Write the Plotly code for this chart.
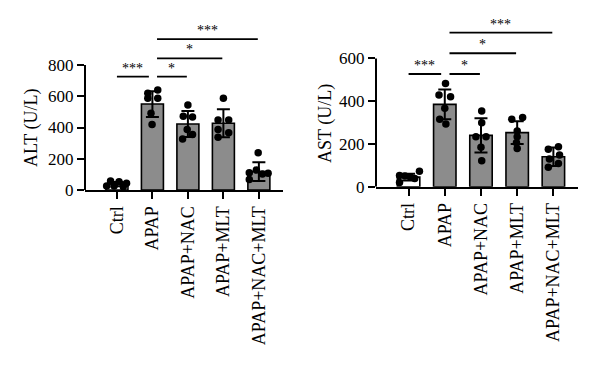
import plotly.graph_objects as go

# ---------------- data ----------------
groups = ["Ctrl", "APAP", "APAP+NAC", "APAP+MLT", "APAP+NAC+MLT"]

alt_mean = [38, 550, 422, 427, 118]
alt_sd = [14, 82, 83, 90, 60]
alt_points = [
    [58, 53, 43, 26, 26, 21],
    [619, 640, 587, 587, 491, 420],
    [544, 472, 468, 388, 356, 326],
    [587, 448, 448, 388, 367, 337],
    [239, 128, 111, 107, 102, 68],
]

ast_mean = [45, 385, 240, 253, 140]
ast_sd = [16, 70, 80, 53, 43]
ast_points = [
    [52, 50, 45, 72, 38, 20],
    [483, 429, 421, 367, 315, 293],
    [354, 299, 234, 234, 184, 121],
    [315, 323, 260, 234, 206, 179],
    [175, 187, 130, 148, 109, 91],
]

alt_ticks = [0, 200, 400, 600, 800]
ast_ticks = [0, 200, 400, 600]

# significance brackets: (group_a, group_b, height, label)
alt_sig = [(0, 1, 725, "***"), (1, 2, 725, "*"), (1, 3, 843, "*"), (1, 4, 965, "***")]
ast_sig = [(0, 1, 527, "***"), (1, 2, 527, "*"), (1, 3, 624, "*"), (1, 4, 720, "***")]

# ---------------- style ----------------
alt_jitter = [
    [-0.18, 0.06, 0.27, -0.29, -0.08, 0.18],
    [-0.13, 0.15, -0.13, 0.15, -0.04, -0.01],
    [0.0, -0.13, 0.13, -0.02, 0.13, -0.15],
    [0.0, -0.15, 0.15, -0.15, 0.15, -0.15],
    [-0.02, -0.07, -0.27, 0.26, 0.10, -0.27],
]
ast_jitter = [
    [-0.25, -0.1, 0.05, 0.3, 0.17, -0.25],
    [0.02, -0.16, 0.16, 0.0, -0.14, 0.03],
    [0.02, 0.02, -0.14, 0.14, 0.0, 0.02],
    [-0.15, 0.15, 0.0, 0.0, -0.02, 0.0],
    [-0.14, 0.14, -0.11, 0.17, 0.14, -0.14],
]
FONT = "Liberation Serif"
GRAY = "#8c8c8c"
bar_colors = ["white", GRAY, GRAY, GRAY, GRAY]
xs = list(range(len(groups)))

fig = go.Figure()


def add_panel(mean, sd, points, jitter, xa, ya):
    fig.add_trace(go.Bar(
        x=xs, y=mean, width=0.62, xaxis=xa, yaxis=ya,
        marker=dict(color=bar_colors, line=dict(color="black", width=1.6)),
        error_y=dict(type="data", array=sd, visible=True, color="black",
                     thickness=2, width=6.5),
        showlegend=False, hoverinfo="skip",
    ))
    px, py = [], []
    for i, pts in enumerate(points):
        for j, v in enumerate(pts):
            px.append(i + jitter[i][j])
            py.append(v)
    fig.add_trace(go.Scatter(
        x=px, y=py, mode="markers", xaxis=xa, yaxis=ya,
        marker=dict(color="black", size=7.5),
        showlegend=False, hoverinfo="skip",
    ))


add_panel(alt_mean, alt_sd, alt_points, alt_jitter, "x", "y")
add_panel(ast_mean, ast_sd, ast_points, ast_jitter, "x2", "y2")

xcommon = dict(
    tickmode="array", tickvals=xs, ticktext=groups, tickangle=-90,
    showline=True, linecolor="black", linewidth=2, ticks="outside",
    ticklen=7, tickwidth=2, tickcolor="black", showgrid=False, zeroline=False,
    tickfont=dict(family=FONT, size=18, color="black"), range=[-0.9, 4.68],
    automargin=False,
)
ycommon = dict(
    showline=False, ticks="outside", ticklen=7, tickwidth=2, tickcolor="black",
    showgrid=False, zeroline=False, automargin=False,
    tickfont=dict(family=FONT, size=17, color="black"),
)

fig.update_layout(
    width=600, height=367,
    margin=dict(l=0, r=0, t=0, b=0),
    paper_bgcolor="white", plot_bgcolor="white",
    bargap=0.38,
    xaxis=dict(domain=[85 / 600, 283 / 600], anchor="y", **xcommon),
    xaxis2=dict(domain=[376 / 600, 578 / 600], anchor="y2", **xcommon),
    yaxis=dict(domain=[(367 - 190) / 367, (367 - 33.75) / 367], anchor="x",
               range=[0, 1000], tickvals=alt_ticks, **ycommon),
    yaxis2=dict(domain=[(367 - 186.7) / 367, (367 - 26.3) / 367], anchor="x2",
                range=[0, 750], tickvals=ast_ticks, **ycommon),
)

shapes = []
annos = []
for (xr, yr, dom, ticks, sig) in [("x", "y", "x domain", alt_ticks, alt_sig),
                                  ("x2", "y2", "x2 domain", ast_ticks, ast_sig)]:
    # y axis line only up to the top tick
    shapes.append(dict(type="line", xref=dom, yref=yr, x0=0, x1=0,
                       y0=ticks[0], y1=ticks[-1],
                       line=dict(color="black", width=2)))
    for a, b, h, lab in sig:
        x0 = a if a == 0 else a + 0.13
        x1 = b - 0.1 if a == 0 else b - 0.03
        shapes.append(dict(type="line", xref=xr, yref=yr, x0=x0, x1=x1,
                           y0=h, y1=h, line=dict(color="black", width=1.8)))
        annos.append(dict(x=(x0 + x1) / 2, y=h, xref=xr, yref=yr, text=lab,
                          showarrow=False, xanchor="center", yanchor="bottom",
                          yshift=-1,
                          font=dict(family=FONT, size=14, color="black")))

annos.append(dict(x=31 / 600, y=(367 - 128) / 367, xref="paper", yref="paper",
                  text="ALT (U/L)", textangle=-90, showarrow=False,
                  xanchor="center", yanchor="middle",
                  font=dict(family=FONT, size=18, color="black")))
annos.append(dict(x=325 / 600, y=(367 - 124) / 367, xref="paper", yref="paper",
                  text="AST (U/L)", textangle=-90, showarrow=False,
                  xanchor="center", yanchor="middle",
                  font=dict(family=FONT, size=18, color="black")))

fig.update_layout(shapes=shapes, annotations=annos)
fig.write_html("out.html", config={"displayModeBar": False},
               post_script="document.body.style.margin='0';")
